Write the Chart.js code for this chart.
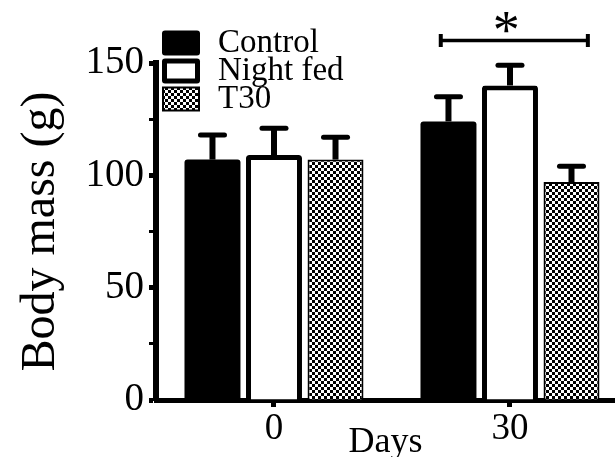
<!DOCTYPE html>
<html><head><meta charset="utf-8">
<script src="https://cdn.jsdelivr.net/npm/chart.js@4/dist/chart.umd.min.js"></script>
<style>html,body{margin:0;padding:0;background:#fff;overflow:hidden}#wrap{width:615px;height:457px}</style>
</head><body><div id="wrap"><canvas id="c" width="615" height="457"></canvas></div>
<script>
// ---- data ----
const days = [0, 30];
const seriesLabels = ['Control', 'Night fed', 'T30'];
const controlMean = [107, 124];
const nightFedMean = [109, 140];
const t30Mean = [107, 97];
const controlErr = [11, 11];
const nightFedErr = [12, 9];
const t30Err = [10, 7];
const yMajorTicks = [0, 50, 100, 150];
const yMinorTicks = [25, 75, 125];
const sigSpan = [21.2, 39.9];   // x-range (days) of significance bracket
const sigLevel = 160;           // y value of bracket
const sigLabel = '*';

const SERIF = '"Liberation Serif", "Times New Roman", serif';

function checker() {
  const p = document.createElement('canvas');
  p.width = 6; p.height = 6;
  const g = p.getContext('2d');
  g.fillStyle = '#fff'; g.fillRect(0, 0, 6, 6);
  g.fillStyle = '#000'; g.fillRect(0, 0, 3, 3); g.fillRect(3, 3, 3, 3);
  return g.createPattern(p, 'repeat');
}
const pattern = checker();

const toPts = arr => days.map((d, i) => ({ x: d, y: arr[i] }));

const datasets = [
  { label: seriesLabels[0], data: toPts(controlMean), errors: controlErr,
    backgroundColor: '#000', borderColor: '#000', borderWidth: 0, borderRadius: 3 },
  { label: seriesLabels[1], data: toPts(nightFedMean), errors: nightFedErr,
    backgroundColor: '#fff', borderColor: '#000', borderWidth: 5, borderRadius: 3 },
  { label: seriesLabels[2], data: toPts(t30Mean), errors: t30Err,
    backgroundColor: pattern, borderColor: '#000', borderWidth: 2, borderRadius: 0 }
];

const errorBars = {
  id: 'errorBars',
  afterDatasetsDraw(chart) {
    const ctx = chart.ctx, ys = chart.scales.y;
    ctx.save();
    ctx.strokeStyle = '#000';
    chart.data.datasets.forEach((ds, i) => {
      const meta = chart.getDatasetMeta(i);
      meta.data.forEach((bar, j) => {
        const top = ys.getPixelForValue(ds.data[j].y + ds.errors[j]);
        ctx.lineWidth = 6;
        ctx.beginPath(); ctx.moveTo(bar.x, bar.y); ctx.lineTo(bar.x, top); ctx.stroke();
        ctx.lineWidth = 5; ctx.lineCap = 'round';
        ctx.beginPath(); ctx.moveTo(bar.x - 12, top); ctx.lineTo(bar.x + 12, top); ctx.stroke();
        ctx.lineCap = 'butt';
      });
    });
    ctx.restore();
  }
};

const extras = {
  id: 'extras',
  afterDraw(chart) {
    const ctx = chart.ctx, xs = chart.scales.x, ys = chart.scales.y;
    ctx.save();
    // significance bracket
    const x1 = xs.getPixelForValue(sigSpan[0]), x2 = xs.getPixelForValue(sigSpan[1]);
    const yb = ys.getPixelForValue(sigLevel);
    ctx.strokeStyle = '#000';
    ctx.lineWidth = 3.5;
    ctx.beginPath(); ctx.moveTo(x1, yb); ctx.lineTo(x2, yb); ctx.stroke();
    ctx.lineWidth = 4;
    ctx.beginPath(); ctx.moveTo(x1, yb - 6.5); ctx.lineTo(x1, yb + 6.5);
    ctx.moveTo(x2, yb - 6.5); ctx.lineTo(x2, yb + 6.5); ctx.stroke();
    ctx.fillStyle = '#000';
    ctx.font = '54px ' + SERIF;
    ctx.textAlign = 'center'; ctx.textBaseline = 'alphabetic';
    ctx.fillText(sigLabel, (x1 + x2) / 2 - 8, yb + 7);
    // legend
    const bx = 162, bw = 38, bh = 25, rowH = 28, y0 = 43;
    ctx.font = 'normal 33px ' + SERIF;
    ctx.textAlign = 'left'; ctx.textBaseline = 'middle';
    chart.data.datasets.forEach((ds, i) => {
      const cy = y0 + i * rowH;
      const by = cy - bh / 2;
      ctx.fillStyle = ds.borderColor;
      ctx.beginPath();
      if (ctx.roundRect) ctx.roundRect(bx, by, bw, bh, ds.borderRadius); else ctx.rect(bx, by, bw, bh);
      ctx.fill();
      const bwid = ds.borderWidth;
      if (bwid > 0) {
        ctx.fillStyle = ds.backgroundColor;
        ctx.fillRect(bx + bwid, by + bwid, bw - 2 * bwid, bh - 2 * bwid);
      }
      ctx.fillStyle = '#000';
      ctx.fillText(ds.label, 218, cy);
    });
    ctx.restore();
  }
};

new Chart(document.getElementById('c'), {
  type: 'bar',
  data: { datasets },
  plugins: [errorBars, extras],
  options: {
    responsive: false, animation: false, devicePixelRatio: 1,
    layout: { padding: { top: 63, right: 0, bottom: 0, left: 0 } },
    plugins: { legend: { display: false }, tooltip: { enabled: false } },
    datasets: { bar: { categoryPercentage: 0.782, barPercentage: 0.91, grouped: true } },
    scales: {
      x: {
        type: 'linear', min: -15, max: 43.35, offset: false,
        afterBuildTicks: s => { s.ticks = days.map(v => ({ value: v })); },
        afterFit: s => { s.height = 57; },
        ticks: { color: '#000', font: { family: SERIF, size: 37, weight: 'normal', lineHeight: 1.2 }, padding: 0,
                 autoSkip: false, maxRotation: 0, callback: v => String(v) },
        grid: { display: true, offset: false, drawOnChartArea: false, drawTicks: true, tickLength: 7, tickWidth: 5, tickColor: '#000' },
        border: { display: true, color: '#000', width: 5 },
        title: { display: true, text: 'Days', color: '#000', font: { family: SERIF, size: 36, weight: 'normal', lineHeight: 0.8 }, padding: 0 }
      },
      y: {
        min: 0, max: 150,
        afterBuildTicks: s => { s.ticks = yMajorTicks.concat(yMinorTicks).sort((a, b) => a - b).map(v => ({ value: v })); },
        afterFit: s => { s.width = 156; },
        ticks: { color: '#000', font: { family: SERIF, size: 39, weight: 'normal' }, padding: 5, autoSkip: false,
                 callback: v => yMajorTicks.includes(v) ? String(v) : '' },
        grid: { display: true, offset: false, drawOnChartArea: false, drawTicks: true, tickLength: 7,
                tickWidth: c => (c.tick && yMajorTicks.includes(c.tick.value)) ? 5 : 3, tickColor: '#000' },
        border: { display: true, color: '#000', width: 6 },
        title: { display: true, text: 'Body mass (g)', color: '#000', font: { family: SERIF, size: 48, weight: 'normal', lineHeight: 1.2 }, padding: { top: 13, bottom: 0 } }
      }
    }
  }
});
</script>
</body></html>
